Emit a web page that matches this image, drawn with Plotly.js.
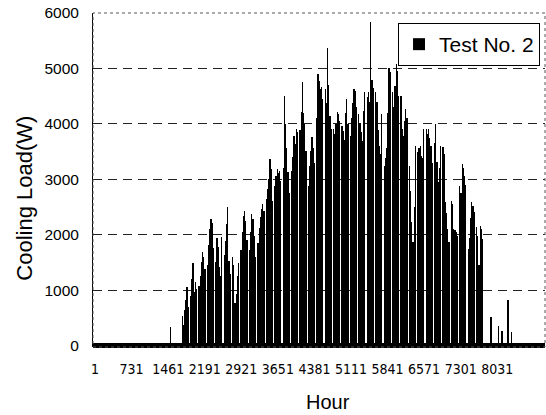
<!DOCTYPE html>
<html>
<head>
<meta charset="utf-8">
<script src="https://cdn.plot.ly/plotly-3.0.1.min.js"></script>
<style>
  html, body { margin: 0; padding: 0; background: #fff; }
  #chart { width: 546px; height: 415px; }
</style>
</head>
<body>
<div id="chart"></div>
<script>
// Hourly axis labels (every 730 h)
const hourTicks = [1, 731, 1461, 2191, 2921, 3651, 4381, 5111, 5841, 6571, 7301, 8031];
const hourTickText = ['1', '731', '1461', '2191', '2921', '3651', '4381', '5111', '5841', '6571', '7301', '8031'];

// Cooling season: first day of operation (day of year, 0-based)
const seasonStartDay = 72;

// Daily peak cooling load (W) during the cooling season, one row per week,
// six operating days followed by Sunday (plant off)
const seasonPeaks = [
  540, 380, 650, 820, 1060, 700, 0,
  900, 1200, 1490, 980, 1150, 1020, 0,
  1080, 1260, 1520, 1690, 1610, 1380, 0,
  1450, 1820, 2100, 2290, 2210, 1760, 0,
  1510, 1950, 1780, 1420, 1260, 1960, 0,
  1640, 1890, 2200, 2500, 1530, 1290, 0,
  1600, 1450, 780, 940, 1260, 1500, 0,
  1720, 2050, 2340, 2430, 2260, 1900, 0,
  1720, 2050, 2380, 2290, 1980, 1600, 0,
  1850, 2120, 2330, 2470, 2560, 2430, 0,
  2650, 2820, 3010, 3370, 3180, 2610, 0,
  2890, 3060, 3190, 3120, 3150, 2980, 0,
  3200, 4500, 4000, 3560, 3130, 2750, 0,
  3150, 3410, 3780, 3640, 3910, 3850, 0,
  3900, 4210, 4750, 4200, 4000, 3520, 0,
  2880, 3250, 3510, 3770, 3560, 3300, 0,
  4100, 4900, 4780, 4630, 4660, 4450, 0,
  4630, 4380, 5370, 4700, 4150, 3910, 0,
  3910, 3820, 4000, 4220, 4180, 4050, 0,
  3960, 3880, 3720, 4200, 4450, 4000, 0,
  3790, 4110, 4380, 4630, 4590, 4300, 0,
  4180, 4020, 3850, 3700, 4240, 4580, 0,
  4480, 4580, 4400, 5840, 4800, 4650, 0,
  4580, 4400, 3900, 3600, 3450, 4180, 0,
  3240, 3380, 3560, 4200, 5010, 4930, 0,
  4580, 4300, 4680, 5080, 4950, 4500, 0,
  4500, 3910, 3780, 4050, 4270, 4100, 0,
  3240, 2800, 2230, 1870, 2500, 3600, 0,
  3490, 3560, 3600, 3420, 3380, 3910, 0,
  3910, 3820, 3910, 3750, 3600, 3300, 0,
  3650, 4000, 3310, 2950, 3200, 3600, 0,
  3580, 3450, 2590, 2400, 2100, 1870, 0,
  2610, 2550, 2100, 2080, 2050, 1980, 0,
  2880, 2750, 3280, 3200, 3060, 2900, 0,
  1750, 1950, 2300, 2590, 2520, 2410, 0,
  2140, 1980, 1450, 2160, 2100, 1920
];

// Isolated operating days outside the main season
const extraDays = [62, 329, 335, 338, 343, 346];
const extraPeaks = [340, 520, 360, 270, 820, 250];

const HOURS_PER_DAY = 24;
const days = seasonPeaks.map((_, i) => seasonStartDay + i).concat(extraDays);
const peaks = seasonPeaks.concat(extraPeaks);
const hourX = days.map(d => d * HOURS_PER_DAY + HOURS_PER_DAY / 2 + 0.5);

const trace = {
  type: 'bar',
  name: 'Test No. 2',
  x: hourX,
  y: peaks,
  width: HOURS_PER_DAY,
  marker: { color: '#000', line: { width: 0 } },
  hoverinfo: 'x+y'
};

const layout = {
  width: 546,
  height: 415,
  margin: { l: 93, r: 1, t: 13, b: 68 },
  paper_bgcolor: '#fff',
  plot_bgcolor: '#fff',
  showlegend: true,
  legend: {
    x: 0.989, y: 0.97, xanchor: 'right', yanchor: 'top',
    bgcolor: '#fff', bordercolor: '#000', borderwidth: 1,
    font: { family: 'Liberation Sans, Arial, sans-serif', size: 21, color: '#000' },
    itemwidth: 30, tracegroupgap: 0
  },
  xaxis: {
    range: [-40, 8985],
    tickmode: 'array',
    tickvals: hourTicks,
    ticktext: hourTickText,
    ticks: '',
    showgrid: false,
    zeroline: false,
    showline: false,
    ticklabelstandoff: 12,
    tickfont: { family: 'DejaVu Sans Condensed, Liberation Sans, sans-serif', size: 14, color: '#000' }
  },
  yaxis: {
    range: [-20, 6000],
    tickvals: [0, 1000, 2000, 3000, 4000, 5000, 6000],
    ticks: '',
    showgrid: true,
    gridcolor: '#222',
    gridwidth: 1,
    griddash: '9px,6px',
    zeroline: true,
    zerolinecolor: '#000',
    zerolinewidth: 5,
    showline: true,
    linecolor: '#000',
    linewidth: 1,
    ticklabelstandoff: 10,
    tickfont: { family: 'Liberation Sans, Arial, sans-serif', size: 15.5, color: '#000' }
  },
  shapes: [{
    type: 'rect', xref: 'paper', yref: 'paper',
    x0: 0, x1: 1, y0: 0, y1: 1,
    line: { color: '#555', width: 1, dash: 'dot' },
    layer: 'above'
  }],
  annotations: [
    {
      text: 'Hour', xref: 'paper', yref: 'paper',
      x: 0.52, y: -0.165, xanchor: 'center', yanchor: 'middle',
      showarrow: false,
      font: { family: 'Liberation Sans, Arial, sans-serif', size: 20, color: '#000' }
    },
    {
      text: 'Cooling Load(W)', xref: 'paper', yref: 'paper',
      x: -0.152, y: 0.445, xanchor: 'center', yanchor: 'middle',
      textangle: -90, showarrow: false,
      font: { family: 'Liberation Sans, Arial, sans-serif', size: 22, color: '#000' }
    }
  ],
  bargap: 0
};

Plotly.newPlot('chart', [trace], layout, { staticPlot: true, displayModeBar: false });
</script>
</body>
</html>
